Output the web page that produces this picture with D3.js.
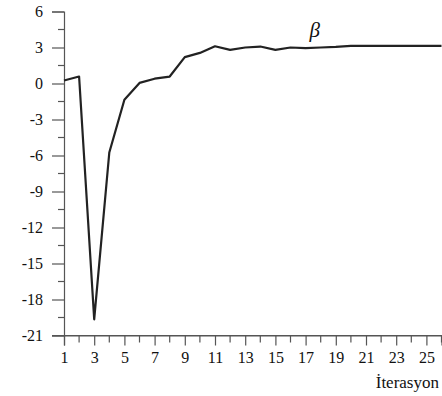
<!DOCTYPE html>
<html>
<head>
<meta charset="utf-8">
<script src="https://cdn.jsdelivr.net/npm/d3@7"></script>
<style>
  svg, svg text { font-family: "Liberation Serif", "Times New Roman", serif; }
</style>
</head>
<body style="margin:0;background:#fff">
<div id="chart"></div>
<script>
// --- Data ---
const iterations = [1, 2, 3, 4, 5, 6, 7, 8, 9, 10, 11, 12, 13, 14, 15, 16, 17, 18, 19, 20, 21, 22, 23, 24, 25, 26];
const betaValues = [0.25, 0.58, -19.65, -5.75, -1.35, 0.05, 0.4, 0.58, 2.2, 2.55, 3.1, 2.8, 3.0, 3.08, 2.8, 3.0, 2.95, 3.0, 3.05, 3.14, 3.14, 3.14, 3.14, 3.14, 3.14, 3.14];
const yMajorTicks = [6, 3, 0, -3, -6, -9, -12, -15, -18, -21];
const xLabelTicks = [1, 3, 5, 7, 9, 11, 13, 15, 17, 19, 21, 23, 25];
const seriesLabel = "β";
const xTitle = "İterasyon";

const W = 442, H = 396;
const FONT = "Liberation Serif";
const svg = d3.select("#chart").append("svg").attr("width", W).attr("height", H);

// scales
const x = d3.scaleLinear().domain([1, 26]).range([64, 441.5]);
const y = d3.scaleLinear().domain([-21, 6]).range([335.5, 11.5]);

const axisColor = "#555";
const plainNum = d => String(d); // hyphen minus, like the reference

// --- Y axis: major ticks every 3, minor halfway ---
const yAxis = svg.append("g").attr("transform", `translate(${x(1)},0)`);
yAxis.call(d3.axisLeft(y).tickValues(yMajorTicks).tickSize(12).tickPadding(9).tickFormat(plainNum));
yAxis.attr("font-family", null).attr("font-size", null);
yAxis.select(".domain").attr("stroke", axisColor).attr("stroke-width", 1.2);
yAxis.selectAll(".tick line").attr("stroke", axisColor).attr("stroke-width", 1.2);
yAxis.selectAll("text").attr("font-family", FONT).attr("font-size", 16).attr("fill", "#111");

const yMinor = d3.range(-19.5, 6, 3);
svg.append("g").selectAll("line").data(yMinor).join("line")
  .attr("x1", x(1) - 6).attr("x2", x(1))
  .attr("y1", d => y(d)).attr("y2", d => y(d))
  .attr("stroke", axisColor).attr("stroke-width", 1.2);

// --- X axis ---
const xAxis = svg.append("g").attr("transform", `translate(0,${y(-21)})`);
xAxis.call(d3.axisBottom(x).tickValues(xLabelTicks).tickSize(10).tickPadding(6).tickFormat(plainNum));
xAxis.attr("font-family", null).attr("font-size", null);
xAxis.select(".domain").attr("stroke", axisColor).attr("stroke-width", 1.2);
xAxis.selectAll(".tick line").attr("stroke", axisColor).attr("stroke-width", 1.2);
xAxis.selectAll("text").attr("font-family", FONT).attr("font-size", 16).attr("fill", "#111");

const xMinor = iterations.filter(d => d % 2 === 0);
svg.append("g").selectAll("line").data(xMinor).join("line")
  .attr("x1", d => x(d)).attr("x2", d => x(d))
  .attr("y1", y(-21)).attr("y2", y(-21) + 7)
  .attr("stroke", axisColor).attr("stroke-width", 1.2);

// extend x-axis line to the left of the y-axis (like the reference)
svg.append("line")
  .attr("x1", x(1) - 12).attr("x2", W)
  .attr("y1", y(-21)).attr("y2", y(-21))
  .attr("stroke", axisColor).attr("stroke-width", 1.2);

// --- Line ---
const line = d3.line().x((d, i) => x(iterations[i])).y(d => y(d));
svg.append("path")
  .datum(betaValues)
  .attr("fill", "none")
  .attr("stroke", "#222")
  .attr("stroke-width", 2.2)
  .attr("stroke-linejoin", "round")
  .attr("d", line);

// --- Labels ---
svg.append("text")
  .attr("x", x(17.6)).attr("y", 37)
  .attr("text-anchor", "middle")
  .attr("font-family", FONT)
  .attr("font-size", 21)
  .attr("font-style", "italic")
  .attr("fill", "#111")
  .text(seriesLabel);

svg.append("text")
  .attr("x", 439).attr("y", 388)
  .attr("text-anchor", "end")
  .attr("font-family", FONT)
  .attr("font-size", 17)
  .attr("fill", "#111")
  .text(xTitle);
</script>
</body>
</html>
